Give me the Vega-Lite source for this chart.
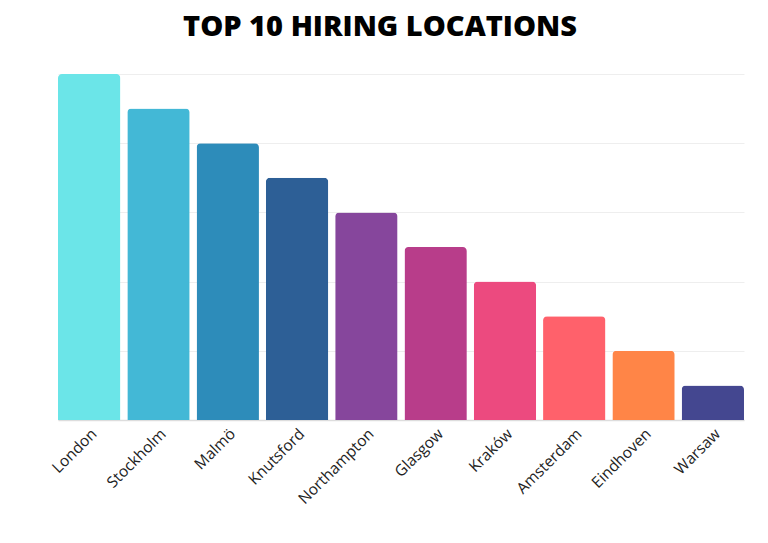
{
  "$schema": "https://vega.github.io/schema/vega-lite/v6.json",
  "width": 686,
  "height": 346,
  "autosize": "none",
  "padding": {"left": 58, "top": 74, "right": 24, "bottom": 123},
  "background": "white",
  "title": {
    "text": "TOP 10 HIRING LOCATIONS",
    "font": "Open Sans",
    "fontSize": 29,
    "fontWeight": 800,
    "color": "#000000",
    "anchor": "middle",
    "offset": 32,
    "dx": -21
  },
  "data": {
    "values": [
      {"city": "London", "value": 10, "color": "#6BE5E8"},
      {"city": "Stockholm", "value": 9, "color": "#43B8D6"},
      {"city": "Malmö", "value": 8, "color": "#2D8CBA"},
      {"city": "Knutsford", "value": 7, "color": "#2D5F96"},
      {"city": "Northampton", "value": 6, "color": "#86469C"},
      {"city": "Glasgow", "value": 5, "color": "#B83D8A"},
      {"city": "Kraków", "value": 4, "color": "#EC4A7F"},
      {"city": "Amsterdam", "value": 3, "color": "#FF616B"},
      {"city": "Eindhoven", "value": 2, "color": "#FF8547"},
      {"city": "Warsaw", "value": 1, "color": "#444790"}
    ]
  },
  "mark": {"type": "bar", "cornerRadiusTopLeft": 4, "cornerRadiusTopRight": 4},
  "encoding": {
    "x": {
      "field": "city",
      "type": "nominal",
      "sort": null,
      "scale": {"paddingInner": 0.1, "paddingOuter": 0},
      "axis": {
        "title": null,
        "labelAngle": -45,
        "labelFont": "Open Sans",
        "labelFontSize": 15.5,
        "labelColor": "#222222",
        "ticks": false,
        "labelPadding": 6,
        "domainColor": "#dddddd",
        "domainWidth": 1.5
      }
    },
    "y": {
      "field": "value",
      "type": "quantitative",
      "scale": {"domain": [0, 10]},
      "axis": {
        "title": null,
        "labels": false,
        "ticks": false,
        "domain": false,
        "values": [0, 2, 4, 6, 8, 10],
        "gridColor": "#eeeeee",
        "gridWidth": 1
      }
    },
    "color": {"field": "color", "type": "nominal", "scale": null, "legend": null}
  },
  "config": {"view": {"stroke": null}}
}
